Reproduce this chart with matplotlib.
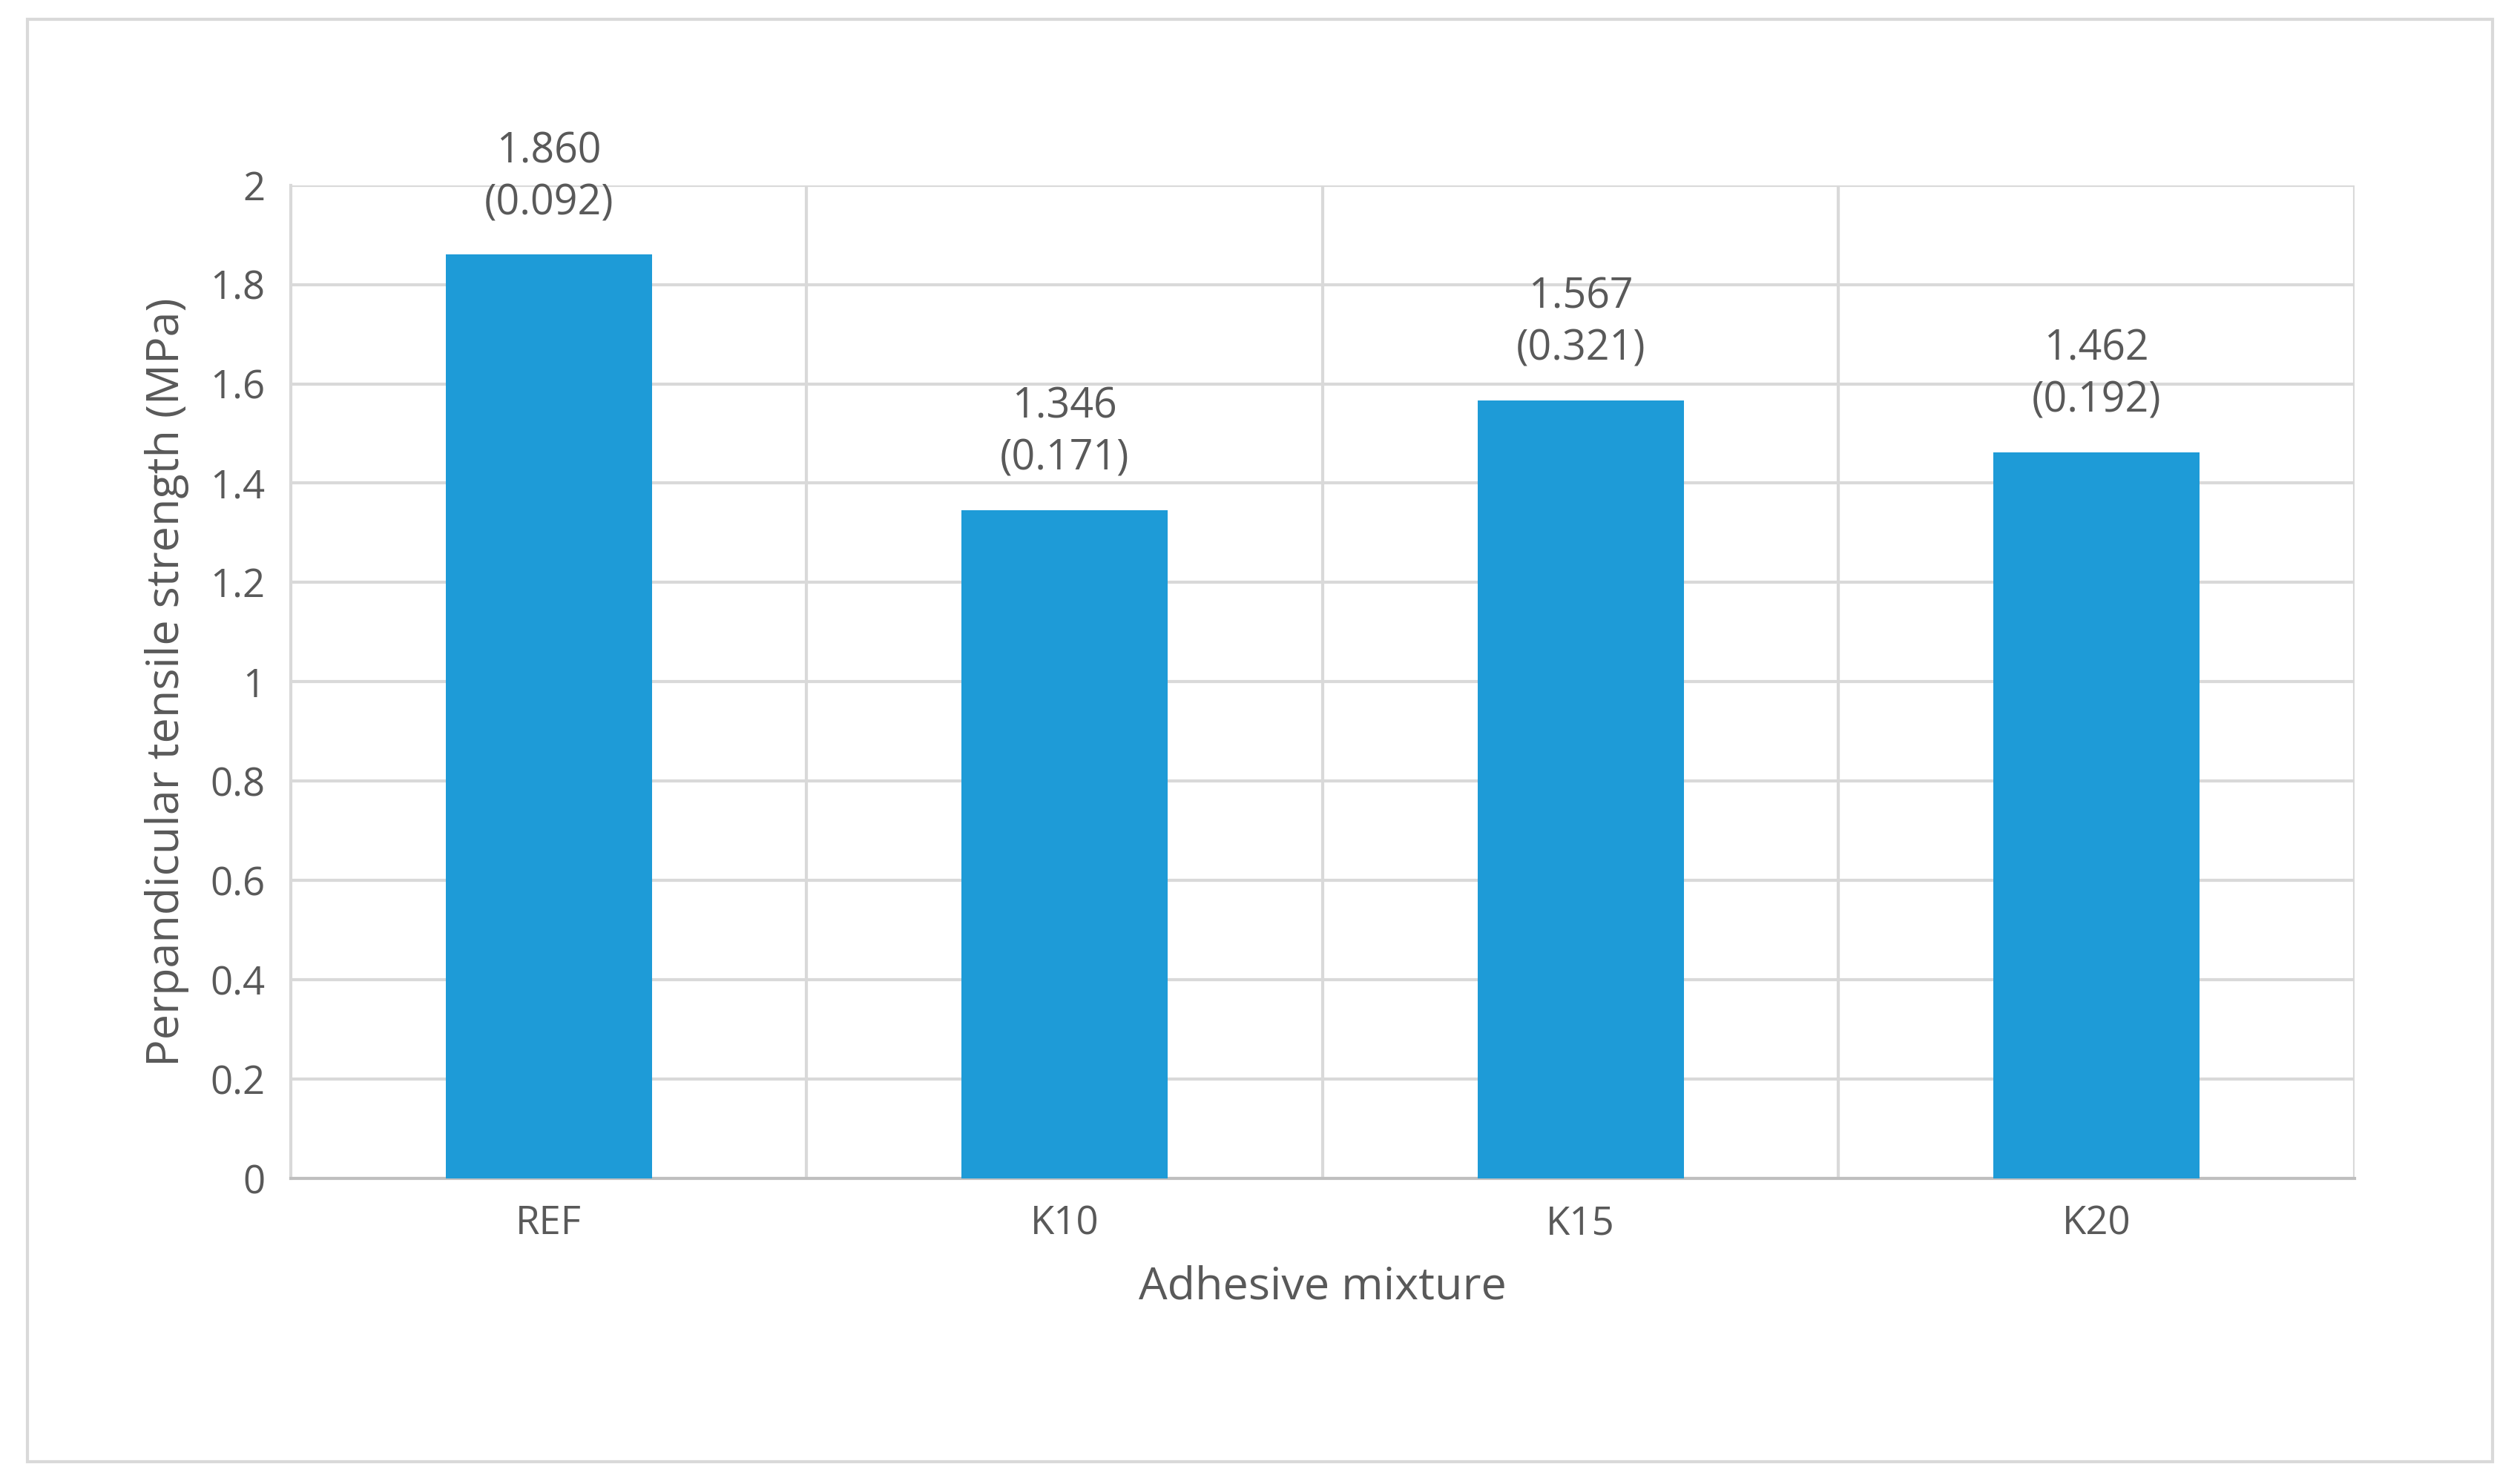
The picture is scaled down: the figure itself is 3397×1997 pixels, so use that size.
import matplotlib.pyplot as plt
from matplotlib.patches import Rectangle

categories = ["REF", "K10", "K15", "K20"]
means = [1.860, 1.346, 1.567, 1.462]
stds = [0.092, 0.171, 0.321, 0.192]

plt.rcParams["font.family"] = ["Open Sans", "DejaVu Sans"]
txt = "#595959"
grid = "#D9D9D9"

fig = plt.figure(figsize=(33.97, 19.97), dpi=100)
fig.patches.append(Rectangle((0.011, 0.013), 0.978, 0.974, transform=fig.transFigure,
                             fill=False, edgecolor=grid, lw=3))
ax = fig.add_axes([0.1154, 0.2043, 0.8189, 0.6707])

x = range(len(categories))
ax.bar(x, means, width=0.4, color="#1E9BD7", zorder=3)
for xi, m, s in zip(x, means, stds):
    ax.text(xi, m + 0.06, f"{m:.3f}\n({s:.3f})", ha="center", va="bottom",
            fontsize=40, color=txt, linespacing=1.3)

ax.set_xlim(-0.5, len(categories) - 0.5)
ax.set_ylim(0, 2)
ax.set_yticks([0, 0.2, 0.4, 0.6, 0.8, 1, 1.2, 1.4, 1.6, 1.8, 2])
ax.set_yticklabels(["0", "0.2", "0.4", "0.6", "0.8", "1", "1.2", "1.4", "1.6", "1.8", "2"])
ax.set_xticks(list(x))
ax.set_xticklabels(categories)
ax.yaxis.grid(True, color=grid, lw=3, zorder=0)
for b in [0.5, 1.5, 2.5, 3.5]:
    ax.axvline(b, color=grid, lw=3, zorder=0)
for sp in ["top", "right"]:
    ax.spines[sp].set_visible(False)
ax.spines["left"].set_color(grid)
ax.spines["left"].set_linewidth(3)
ax.spines["bottom"].set_color("#BFBFBF")
ax.spines["bottom"].set_linewidth(3)
ax.tick_params(axis="both", length=0, labelsize=38, labelcolor=txt, pad=25)
ax.set_xlabel("Adhesive mixture", fontsize=44, color=txt, labelpad=20)
ax.set_ylabel("Perpandicular tensile strength (MPa)", fontsize=44, color=txt, labelpad=20)

fig.savefig("out.png", dpi=100)
